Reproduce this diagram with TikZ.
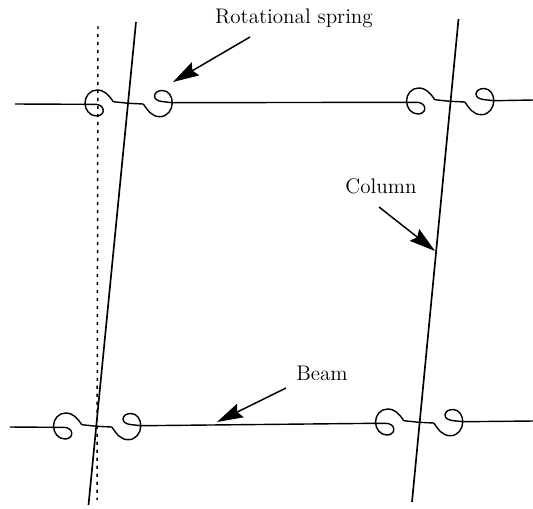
\documentclass[tikz,border=0pt]{standalone}
\usepackage{xcolor}
\usepackage{tikz}
\usetikzlibrary{arrows.meta, positioning}
\tikzstyle{arrow} = [line width=0.85pt,-{Stealth[length=0.52cm,width=0.3cm,inset=0.07cm]}]
\tikzstyle{member} = [line width=0.95pt]
\tikzstyle{spring} = [line width=0.8pt, line join=round]
\tikzstyle{label} = [font=\large, inner sep=0pt]
\tikzset{
    springjoint/.pic={
        \coordinate (-in) at (-43.5,1.3);
        \coordinate (-out) at (43.8,-0.3);
        % left curl
        \draw[spring] (-43.5,1.3) -- (-33,1.3) to[out=0,in=90] (-25.2,7.5) to[out=-90,in=0] (-32,13) to[out=180,in=-90] (-43.5,0) to[out=90,in=180] (-31.5,-13) to[out=0,in=125] (-15.2,-1.3);
        % short link across the column
        \draw[spring] (-15.2,-1.3) -- (0,0.3) -- (14.8,1);
        % right curl
        \draw[spring] (14.8,1) to[out=-55,in=180] (31.5,13.7) to[out=0,in=-90] (43.8,-0.3) to[out=90,in=0] (34,-12.5) to[out=180,in=90] (26,-7) to[out=-90,in=170] (33.2,-1.5) -- (43.8,-0.3);
    }
}

\begin{document}
\begin{tikzpicture}[x=0.02cm, y=-0.02cm]
    \useasboundingbox (0,0) rectangle (533,508);

    % Joints
    \foreach \name/\x/\y in {jointa/128.5/103, jointb/450/101, jointc/97/426, jointd/419/422} {
        \pic (\name) at (\x,\y) {springjoint};
    }

    % Free ends
    \coordinate (beamtopL) at (15,104);
    \coordinate (beamtopR) at (533,100);
    \coordinate (beambotL) at (10,427);
    \coordinate (beambotR) at (533,421);
    \coordinate (colatop) at (136,22);
    \coordinate (colabot) at (88.5,505);
    \coordinate (colbtop) at (458.5,19);
    \coordinate (colbbot) at (412,502);
    \coordinate (plumbtop) at (98,26);
    \coordinate (plumbbot) at (97,500);

    % Beams
    \draw[spring] (beamtopL) -- (jointa-in);
    \draw[spring] (jointa-out) -- (jointb-in);
    \draw[spring] (jointb-out) -- (beamtopR);
    \draw[spring] (beambotL) -- (jointc-in);
    \draw[spring] (jointc-out) -- (jointd-in);
    \draw[spring] (jointd-out) -- (beambotR);

    % Columns
    \draw[member] (colatop) -- (colabot);
    \draw[member] (colbtop) -- (colbbot);

    % Original vertical
    \draw[line width=0.85pt, dash pattern=on 1.8pt off 2.75pt] (plumbtop) -- (plumbbot);

    % Labels
    \node (springlabel) at (294,18) [label] {Rotational spring};
    \node (columnlabel) at (381,186) [label] {Column};
    \node (beamlabel) at (322,373) [label] {Beam};

    % Pointers
    \coordinate (springtail) at (250,37);
    \coordinate (springtip) at (173,82);
    \coordinate (columntail) at (379,207);
    \coordinate (columntip) at (435,251);
    \coordinate (beamtail) at (286,388);
    \coordinate (beamtip) at (217,422);
    \draw[arrow] (springtail) -- (springtip);
    \draw[arrow] (columntail) -- (columntip);
    \draw[arrow] (beamtail) -- (beamtip);
\end{tikzpicture}
\end{document}
